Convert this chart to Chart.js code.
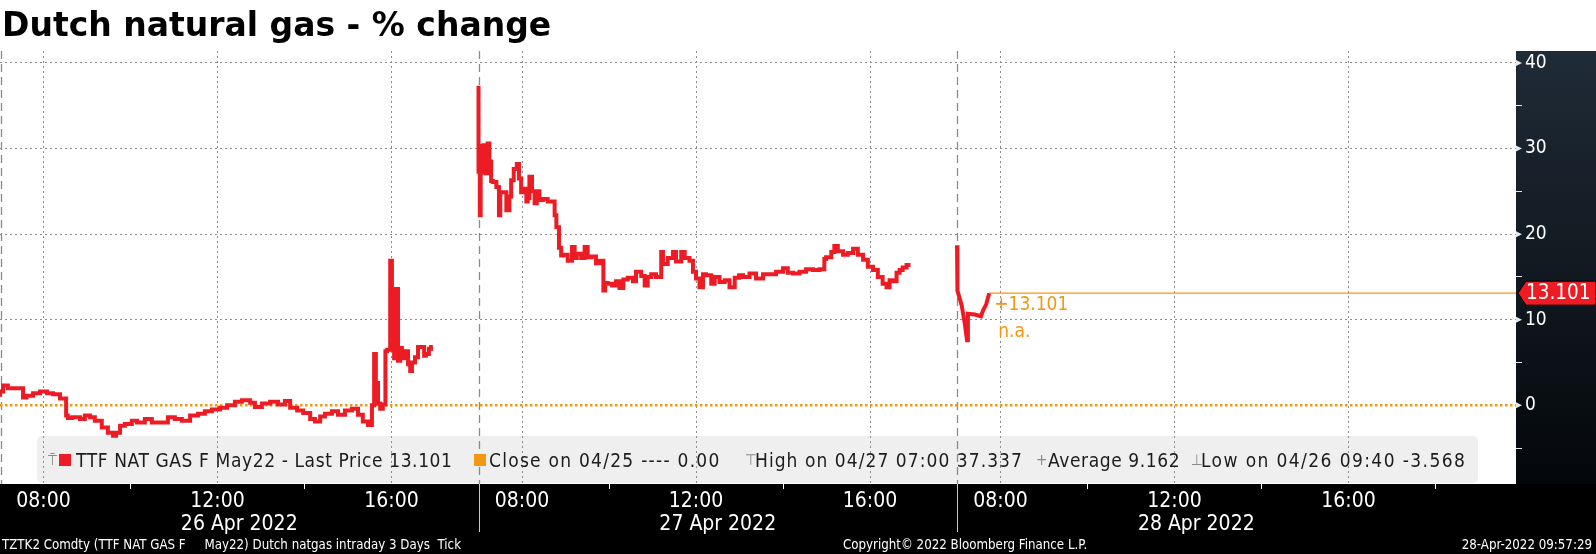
<!DOCTYPE html>
<html lang="en">
<head>
  <meta charset="UTF-8" />
  <title>Dutch natural gas - % change</title>
  <script src="https://cdn.jsdelivr.net/npm/chart.js"></script>
  <style>
    body { margin: 0; width: 1596px; height: 554px; overflow: hidden; position: relative; background: #fff;
           font-family: "DejaVu Sans Condensed", "DejaVu Sans", sans-serif; }
    #chart { position: absolute; left: 0; top: 0; }
    #title { position: absolute; left: 2px; top: 5px; font: bold 33px "DejaVu Sans", sans-serif; line-height: 40px;
             color: #000; white-space: nowrap; }
    .legend { position: absolute; left: 37px; top: 436px; width: 1441px; height: 47px; }
    .legend span { position: absolute; top: 13px; font-size: 19px; letter-spacing: 0.6px; color: #1c1c1c;
                   white-space: nowrap; line-height: 22px; }
    .legend .sq { width: 12px; height: 12px; top: 18px; }
    .legend .mk { color: #8a8a8a; font-size: 15px; letter-spacing: 0; }
    .footer { position: absolute; top: 537px; color: #fff; font-size: 13.2px; white-space: pre; line-height: 16px; }
  </style>
</head>
<body>
  <canvas id="chart" width="1596" height="554"></canvas>
  <div id="title">Dutch natural gas - % change</div>

  <div class="legend">
    <span class="mk" style="left:11px">⍑</span>
    <span class="sq" style="left:22px; background:#ed1c24"></span>
    <span style="left:39px">TTF NAT GAS F May22 - Last Price 13.101</span>
    <span class="sq" style="left:437px; background:#f39612"></span>
    <span style="left:452px; letter-spacing:1.25px">Close on 04/25 ---- 0.00</span>
    <span class="mk" style="left:708px">⊤</span>
    <span style="left:718px; letter-spacing:1.05px">High on 04/27 07:00 37.337</span>
    <span class="mk" style="left:999px">+</span>
    <span style="left:1011px">Average 9.162</span>
    <span class="mk" style="left:1154px">⊥</span>
    <span style="left:1164px; letter-spacing:1.4px">Low on 04/26 09:40 -3.568</span>
  </div>

  <div class="footer" style="left:2px">TZTK2 Comdty (TTF NAT GAS F     May22) Dutch natgas intraday 3 Days  Tick</div>
  <div class="footer" style="left:843px">Copyright© 2022 Bloomberg Finance L.P.</div>
  <div class="footer" style="right:4px">28-Apr-2022 09:57:29</div>

  <script>
    // session: 07:00 - 18:00 each day, days laid side by side
    const SESSION_OPEN = 7;
    const SESSION_HOURS = 11;
    const X_MAX = 34.85;

    const dayLabels = ["26 Apr 2022", "27 Apr 2022", "28 Apr 2022"];
    const majorHours = [8, 12, 16];
    const minorHours = [10, 14, 18];
    const dateLabelHour = 12.5;
    const yTicks = [-5, 0, 5, 10, 15, 20, 25, 30, 35, 40];

    const lastPrice = 13.101;
    const prevClose = 0;

    // 26 Apr (clock hour, % change)
    const day1Hours = [7.00, 7.07, 7.18, 7.30, 7.53, 7.61, 7.76, 7.92, 8.08, 8.22, 8.38, 8.52, 8.56, 8.66, 8.84, 8.95,
      9.07, 9.18, 9.34, 9.48, 9.60, 9.667, 9.76, 9.87, 10.03, 10.15, 10.33, 10.49, 10.68, 10.86, 11.02, 11.18, 11.37,
      11.55, 11.71, 11.87, 12.06, 12.22, 12.40, 12.56, 12.75, 12.86, 13.02, 13.21, 13.39, 13.55, 13.67, 13.83, 13.97,
      14.13, 14.24, 14.36, 14.47, 14.63, 14.77, 14.93, 15.09, 15.23, 15.34, 15.46, 15.55, 15.60, 15.64, 15.69, 15.74,
      15.80, 15.86, 15.90, 15.97, 16.01, 16.06, 16.10, 16.15, 16.20, 16.24, 16.31, 16.38, 16.43, 16.47, 16.54, 16.61,
      16.66, 16.75, 16.79, 16.86, 16.91, 16.95];
    const day1Values = [1.0, 1.6, 2.3, 2.0, 2.0, 0.9, 1.1, 1.4, 1.6, 1.4, 1.3, 0.8, -1.2, -1.5, -1.4, -1.6,
      -1.2, -1.4, -1.8, -2.6, -3.2, -3.568, -3.2, -2.4, -2.2, -1.8, -2.0, -1.6, -2.0, -2.0, -1.4, -1.6, -1.8,
      -1.2, -1.0, -0.7, -0.5, -0.3, 0.0, 0.4, 0.6, 0.3, -0.2, 0.2, 0.4, 0.1, 0.5, -0.3, -0.6,
      -0.9, -1.6, -1.9, -1.3, -1.0, -0.7, -1.1, -0.6, -0.4, -1.1, -1.9, -2.3, 0.0, 6.0, 2.6, 0.2,
      -0.4, 0.1, 6.3, 6.5, 16.9, 13.5, 5.5, 13.6, 5.2, 6.7, 5.5, 6.3, 4.8, 4.0, 5.0, 5.6,
      6.8, 6.8, 5.8, 6.0, 6.6, 6.8];

    // 27 Apr
    const day2Hours = [7.00, 7.01, 7.03, 7.05, 7.08, 7.11, 7.16, 7.21, 7.25, 7.29, 7.33, 7.41, 7.47, 7.50, 7.54, 7.64,
      7.71, 7.75, 7.81, 7.88, 7.93, 7.98, 8.02, 8.10, 8.13, 8.17, 8.23, 8.29, 8.34, 8.40, 8.48, 8.59, 8.75, 8.79,
      8.85, 8.90, 8.95, 9.05, 9.15, 9.21, 9.26, 9.36, 9.44, 9.51, 9.59, 9.70, 9.78, 9.87, 9.91, 9.97, 10.07, 10.16,
      10.24, 10.33, 10.43, 10.55, 10.62, 10.74, 10.82, 10.89, 10.97, 11.08, 11.20, 11.24, 11.35, 11.47, 11.54,
      11.66, 11.74, 11.85, 11.93, 12.00, 12.08, 12.16, 12.23, 12.35, 12.43, 12.54, 12.66, 12.77, 12.89, 12.99,
      13.08, 13.23, 13.38, 13.54, 13.69, 13.84, 14.00, 14.11, 14.23, 14.38, 14.53, 14.69, 14.84, 14.95, 14.99,
      15.11, 15.18, 15.26, 15.38, 15.49, 15.61, 15.72, 15.84, 15.95, 16.07, 16.18, 16.29, 16.38, 16.45, 16.52,
      16.61, 16.68, 16.75, 16.84, 16.93];
    const day2Values = [37.337, 27.3, 30.3, 22.2, 29.8, 27.2, 30.4, 27.1, 30.6, 28.5, 26.2, 26.1, 25.5, 22.2, 24.9, 24.9,
      22.8, 24.4, 26.3, 27.6, 28.2, 26.5, 24.9, 25.3, 23.8, 24.2, 26.7, 25.0, 23.6, 25.0, 24.0, 24.1, 23.8, 22.2,
      20.8, 18.4, 17.5, 17.6, 16.9, 18.5, 17.2, 17.7, 17.2, 18.5, 17.3, 17.4, 16.6, 16.9, 13.4, 14.3, 14.2, 14.0,
      14.5, 13.7, 14.7, 14.9, 14.5, 15.6, 15.1, 14.0, 15.0, 15.3, 15.0, 17.9, 16.5, 17.2, 17.9,
      16.8, 17.9, 17.2, 16.9, 15.6, 14.8, 13.8, 15.3, 15.2, 14.2, 15.0, 14.4, 14.6, 13.8, 14.9,
      15.2, 15.0, 15.4, 14.8, 15.3, 15.3, 15.6, 16.0, 15.5, 15.4, 15.6, 15.9, 15.8, 15.9, 17.1,
      17.3, 17.9, 18.6, 18.0, 17.6, 17.8, 18.3, 17.6, 17.0, 16.2, 15.8, 15.0, 14.2, 13.8, 14.6,
      14.5, 15.5, 15.8, 16.1, 16.4];

    // 28 Apr
    const day3Hours = [7.00, 7.01, 7.11, 7.18, 7.23, 7.25, 7.41, 7.55, 7.60, 7.67, 7.74];
    const day3Values = [18.7, 13.4, 11.6, 9.5, 7.6, 10.7, 10.6, 10.4, 11.1, 11.8, 13.101];

    const toT = (d, h) => d * SESSION_HOURS + (h - SESSION_OPEN);
    const hourOf = (t) => Math.round((((t % SESSION_HOURS) + SESSION_HOURS) % SESSION_HOURS + SESSION_OPEN) * 100) / 100;

    // days 1-2 are dense tick runs (drawn as steps), day 3 only has a few prints
    const tickRun = [];
    [[day1Hours, day1Values], [day2Hours, day2Values]].forEach(([hs, vs], d) => {
      if (d > 0) tickRun.push({ x: d * SESSION_HOURS - 0.5, y: null });
      hs.forEach((h, i) => tickRun.push({ x: toT(d, h), y: vs[i] }));
    });
    const lastDay = day3Hours.map((h, i) => ({ x: toT(2, h), y: day3Values[i] }));
    const lastT = lastDay[lastDay.length - 1].x;

    const timeTicks = [];
    dayLabels.forEach((_, d) => {
      [...majorHours, ...minorHours].sort((a, b) => a - b).forEach(h => {
        const t = toT(d, h);
        if (t < (d + 1) * SESSION_HOURS - 0.01 || d === dayLabels.length - 1) timeTicks.push(t);
      });
    });
    const isMajor = (v) => majorHours.includes(hourOf(v));

    const tahomaLike = '"DejaVu Sans Condensed", "DejaVu Sans", sans-serif';

    const frame = {
      id: "frame",
      beforeDraw(chart) {
        const { ctx, chartArea: a, width, height } = chart;
        ctx.save();
        ctx.fillStyle = "#fff";
        ctx.fillRect(0, 0, width, height);
        const g = ctx.createLinearGradient(0, a.top, 0, a.bottom);
        g.addColorStop(0, "#1f2b37");
        g.addColorStop(1, "#04070a");
        ctx.fillStyle = g;
        ctx.fillRect(a.right, a.top, width - a.right, a.bottom - a.top);
        ctx.fillStyle = "#000";
        ctx.fillRect(0, a.bottom, width, height - a.bottom);
        // legend panel, sits under the grid lines
        ctx.fillStyle = "#efefef";
        ctx.beginPath();
        ctx.roundRect(37, 436, 1441, 47, 5);
        ctx.fill();
        ctx.restore();
      },
      beforeDatasetsDraw(chart) {
        const { ctx, chartArea: a, scales: { x } } = chart;
        ctx.save();
        dayLabels.forEach((_, d) => {
          const px = Math.max(Math.round(x.getPixelForValue(d * SESSION_HOURS)) + 0.5, 1.5);
          ctx.strokeStyle = "#8a8a8a";
          ctx.lineWidth = 1.3;
          ctx.setLineDash([8, 5]);
          ctx.beginPath(); ctx.moveTo(px, a.top); ctx.lineTo(px, a.bottom); ctx.stroke();
          if (d > 0) {
            ctx.setLineDash([]);
            ctx.strokeStyle = "#c8c8c8";
            ctx.lineWidth = 1;
            ctx.beginPath(); ctx.moveTo(px, a.bottom); ctx.lineTo(px, a.bottom + 48); ctx.stroke();
          }
        });
        ctx.restore();
      },
      afterDraw(chart) {
        const { ctx, chartArea: a, scales: { x, y }, width } = chart;
        ctx.save();
        // arrow heads on the value axis
        ctx.fillStyle = "#e8e8e8";
        yTicks.filter(v => v % 10 === 0).forEach(v => {
          const py = y.getPixelForValue(v);
          ctx.beginPath(); ctx.moveTo(a.right, py - 3); ctx.lineTo(a.right + 6, py); ctx.lineTo(a.right, py + 3); ctx.fill();
        });
        // last price tag
        const py = y.getPixelForValue(lastPrice);
        ctx.fillStyle = "#ed1c24";
        ctx.strokeStyle = "#000";
        ctx.lineWidth = 1;
        ctx.beginPath();
        ctx.moveTo(a.right + 2, py);
        ctx.lineTo(a.right + 10, py - 12);
        ctx.lineTo(width, py - 12);
        ctx.lineTo(width, py + 12);
        ctx.lineTo(a.right + 10, py + 12);
        ctx.closePath();
        ctx.fill(); ctx.stroke();
        ctx.fillStyle = "#fff";
        ctx.font = "20.5px " + tahomaLike;
        ctx.textBaseline = "middle";
        ctx.fillText(lastPrice.toFixed(3), a.right + 10, py + 1);
        // change annotation next to last point
        const px = x.getPixelForValue(lastT);
        ctx.fillStyle = "#f39612";
        ctx.font = "19px " + tahomaLike;
        ctx.fillText("+" + lastPrice.toFixed(3), px + 5, py + 12);
        ctx.fillText("n.a.", px + 9, py + 39);
        ctx.restore();
      }
    };

    new Chart(document.getElementById("chart"), {
      type: "line",
      data: {
        datasets: [
          { data: tickRun, borderColor: "#ed1c24", borderWidth: 4, pointRadius: 0, stepped: "after", spanGaps: false },
          { data: lastDay, borderColor: "#ed1c24", borderWidth: 4, pointRadius: 0, tension: 0 },
          { data: [{ x: 0, y: prevClose }, { x: X_MAX, y: prevClose }], borderColor: "#f39612", borderWidth: 2.5,
            borderDash: [2.5, 2.5], pointRadius: 0 },
          { data: [{ x: lastT, y: lastPrice }, { x: X_MAX, y: lastPrice }], borderColor: "#f39612", borderWidth: 1.2,
            pointRadius: 0 }
        ]
      },
      options: {
        responsive: false,
        animation: false,
        layout: { padding: { top: 51, left: 0, right: 0, bottom: 18 } },
        plugins: { legend: { display: false }, tooltip: { enabled: false } },
        scales: {
          x: {
            type: "linear", position: "bottom", min: 0, max: X_MAX,
            afterBuildTicks: (s) => { s.ticks = timeTicks.map(v => ({ value: v })); },
            afterFit: (s) => { s.height = 25; },
            ticks: {
              autoSkip: false, maxRotation: 0, color: "#fff", padding: 0,
              font: { family: tahomaLike, size: 21 },
              callback: (v) => isMajor(v) ? String(hourOf(v)).padStart(2, "0") + ":00" : ""
            },
            grid: {
              color: (c) => c.tick && isMajor(c.tick.value) ? "#8c8c8c" : "rgba(0,0,0,0)",
              tickColor: (c) => c.tick && isMajor(c.tick.value) ? "rgba(0,0,0,0)" : "#fff",
              tickLength: 5, lineWidth: 1, borderDash: [2, 3]
            },
            border: { display: false, dash: [2, 3] }
          },
          xDate: {
            type: "linear", position: "bottom", min: 0, max: X_MAX,
            afterBuildTicks: (s) => { s.ticks = dayLabels.map((_, d) => ({ value: toT(d, dateLabelHour) })); },
            afterFit: (s) => { s.height = 27; },
            ticks: {
              autoSkip: false, maxRotation: 0, color: "#fff", padding: 3,
              font: { family: tahomaLike, size: 21 },
              callback: (v) => dayLabels[Math.floor(v / SESSION_HOURS)]
            },
            grid: { display: false, drawTicks: false },
            border: { display: false }
          },
          y: {
            type: "linear", position: "right", min: -9.2, max: 41.4,
            afterBuildTicks: (s) => { s.ticks = yTicks.map(v => ({ value: v })); },
            afterFit: (s) => { s.width = 80; },
            ticks: {
              color: "#fff", padding: 3,
              font: { family: tahomaLike, size: 19 },
              callback: (v) => v % 10 === 0 ? String(v) : ""
            },
            grid: {
              color: (c) => c.tick && c.tick.value % 10 === 0 && c.tick.value !== 0 ? "#8c8c8c" : "rgba(0,0,0,0)",
              tickColor: (c) => c.tick && c.tick.value % 10 !== 0 ? "#e8e8e8" : "rgba(0,0,0,0)",
              tickLength: 6, lineWidth: 1, borderDash: [2, 3]
            },
            border: { display: false, dash: [2, 3] }
          }
        }
      },
      plugins: [frame]
    });
  </script>
</body>
</html>
